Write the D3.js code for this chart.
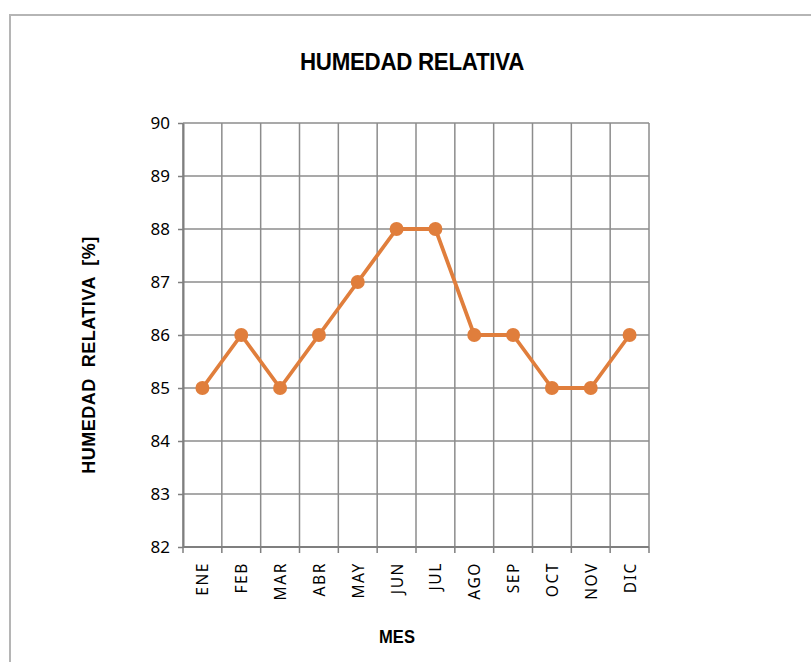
<!DOCTYPE html>
<html><head><meta charset="utf-8">
<script src="https://cdn.jsdelivr.net/npm/d3@7/dist/d3.min.js"></script>
<style>body{margin:0;background:#fff}svg{display:block}</style>
</head><body>
<svg id="c" width="811" height="662"></svg>
<script>
const months = ["ENE","FEB","MAR","ABR","MAY","JUN","JUL","AGO","SEP","OCT","NOV","DIC"];
const humidity = [85,86,85,86,87,88,88,86,86,85,85,86];
const yTicks = [82,83,84,85,86,87,88,89,90];
const title = "HUMEDAD RELATIVA";
const xTitle = "MES";
const yTitle = "HUMEDAD  RELATIVA  [%]";

const svg = d3.select("#c");
const m = {l:183, r:649, t:123, b:547};
const x = d3.scaleBand().domain(months).range([m.l, m.r]);
const y = d3.scaleLinear().domain([82,90]).range([m.b, m.t]);
const grid = "#8c8c8c";

svg.append("rect").attr("x",10).attr("y",15).attr("width",820).attr("height",700)
  .attr("fill","none").attr("stroke","#b5b5b5").attr("stroke-width",2);

// horizontal gridlines
svg.append("g").selectAll("line").data(yTicks).join("line")
  .attr("x1",m.l).attr("x2",m.r).attr("y1",d=>y(d)).attr("y2",d=>y(d))
  .attr("stroke",grid).attr("stroke-width",1.5);
// vertical gridlines at band boundaries
const bounds = months.map(d=>x(d)).concat([m.r]);
svg.append("g").selectAll("line").data(bounds).join("line")
  .attr("x1",d=>d).attr("x2",d=>d).attr("y1",m.t).attr("y2",m.b)
  .attr("stroke",grid).attr("stroke-width",1.5);

// y axis
const ya = svg.append("g").attr("transform",`translate(${m.l},0)`)
  .call(d3.axisLeft(y).tickValues(yTicks).tickSize(5).tickPadding(8).tickSizeOuter(0));
ya.select(".domain").attr("stroke","#7f7f7f").attr("stroke-width",2);
ya.selectAll(".tick line").attr("stroke","#7f7f7f").attr("stroke-width",1.5);
ya.selectAll("text").attr("font-family","'Noto Sans', sans-serif").style("font-size","17px").attr("fill","#000");

// x axis ticks at boundaries
svg.append("g").selectAll("line").data(bounds).join("line")
  .attr("x1",d=>d).attr("x2",d=>d).attr("y1",m.b).attr("y2",m.b+6)
  .attr("stroke","#7f7f7f").attr("stroke-width",1.5);
svg.append("line").attr("x1",m.l).attr("x2",m.r).attr("y1",m.b).attr("y2",m.b)
  .attr("stroke","#7f7f7f").attr("stroke-width",2);
svg.append("g").selectAll("text").data(months).join("text")
  .attr("transform",d=>`translate(${x(d)+x.bandwidth()/2+6},${m.b+15}) rotate(-90)`)
  .attr("text-anchor","end")
  .attr("font-family","'Noto Sans', sans-serif").style("font-size","15.5px")
  .attr("letter-spacing",1.6).attr("fill","#000").text(d=>d);

// line
const cx = d=>x(d)+x.bandwidth()/2;
const color = "#E07E3C";
svg.append("path").datum(months.map((d,i)=>[cx(d),y(humidity[i])]))
  .attr("d",d3.line()).attr("fill","none").attr("stroke",color).attr("stroke-width",3.8)
  .attr("stroke-linejoin","round");
svg.append("g").selectAll("circle").data(months).join("circle")
  .attr("cx",cx).attr("cy",(d,i)=>y(humidity[i])).attr("r",7).attr("fill",color);

// titles
svg.append("text").attr("transform","translate(412,70) scale(0.95,1)").attr("text-anchor","middle")
  .attr("font-family","'Liberation Sans', Arial, sans-serif").attr("font-weight","bold")
  .style("font-size","23.5px").attr("letter-spacing",-0.3).attr("fill","#000").text(title);
svg.append("text").attr("transform","translate(397,643) scale(0.92,1)").attr("text-anchor","middle")
  .attr("font-family","'Liberation Sans', Arial, sans-serif").attr("font-weight","bold")
  .style("font-size","18px").attr("fill","#000").text(xTitle);
svg.append("text").attr("transform","translate(95,355) rotate(-90)").attr("text-anchor","middle")
  .attr("font-family","'Liberation Sans', Arial, sans-serif").attr("font-weight","bold")
  .style("font-size","18px").attr("letter-spacing",0.5).style("white-space","pre")
  .attr("fill","#000").text(yTitle);
</script>
</body></html>
